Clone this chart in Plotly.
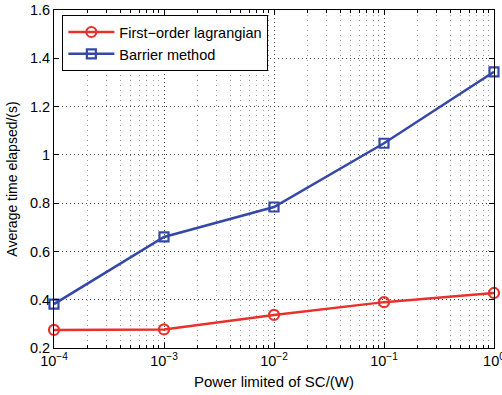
import plotly.graph_objects as go

x_vals = [1e-4, 1e-3, 1e-2, 1e-1, 1e0]
first_order = [0.275, 0.277, 0.337, 0.39, 0.428]
barrier = [0.382, 0.66, 0.784, 1.048, 1.344]
x_tick_vals = [1e-4, 1e-3, 1e-2, 1e-1, 1e0]
x_tick_text = ["10<sup>−4</sup>", "10<sup>−3</sup>", "10<sup>−2</sup>", "10<sup>−1</sup>", "10<sup>0</sup>"]
x_minor_vals = [m * 10.0 ** e for e in range(-4, 0) for m in range(2, 10)]
y_tick_vals = [0.2, 0.4, 0.6, 0.8, 1.0, 1.2, 1.4, 1.6]
y_tick_text = ["0.2", "0.4", "0.6", "0.8", "1", "1.2", "1.4", "1.6"]

red = "#e8312a"
blue = "#3548a8"

fig = go.Figure()
fig.add_trace(go.Scatter(
    x=x_vals, y=first_order, mode="lines+markers", name="First−order lagrangian",
    line=dict(color=red, width=2.5), cliponaxis=False,
    marker=dict(symbol="circle-open", size=10, color=red, line=dict(width=2.2, color=red)),
))
fig.add_trace(go.Scatter(
    x=x_vals, y=barrier, mode="lines+markers", name="Barrier method",
    line=dict(color=blue, width=2.5), cliponaxis=False,
    marker=dict(symbol="square-open", size=9, color=blue, line=dict(width=2.2, color=blue)),
))

font_family = "Liberation Sans, Arial, sans-serif"
fig.update_layout(
    width=502, height=395,
    margin=dict(l=54, r=8, t=10, b=47, autoexpand=False),
    paper_bgcolor="white", plot_bgcolor="white",
    font=dict(family=font_family, size=14, color="black"),
    showlegend=True,
    legend=dict(x=0.019, y=0.985, xanchor="left", yanchor="top",
                bordercolor="black", borderwidth=1, bgcolor="white",
                font=dict(size=14.5), tracegroupgap=0, itemwidth=46),
)
fig.update_xaxes(
    type="log", range=[-4, 0], autorange=False,
    tickvals=x_tick_vals, ticktext=x_tick_text,
    ticks="inside", ticklen=5, tickcolor="black",
    showline=True, linecolor="black", linewidth=1, mirror="ticks",
    showgrid=True, gridcolor="#444", griddash="1px,3px", gridwidth=1,
    minor=dict(tickvals=x_minor_vals, ticks="inside", ticklen=3, tickcolor="black",
               showgrid=True, gridcolor="#999", griddash="1px,4px", gridwidth=1),
    title=dict(text="Power limited of SC/(W)", font=dict(size=15), standoff=8),
    tickfont=dict(size=14.5), ticklabeloverflow="allow",
    zeroline=False, automargin=False,
)
fig.update_yaxes(
    range=[0.2, 1.6], autorange=False,
    tickvals=y_tick_vals, ticktext=y_tick_text,
    ticks="inside", ticklen=5, tickcolor="black",
    showline=True, linecolor="black", linewidth=1, mirror="ticks",
    showgrid=True, gridcolor="#444", griddash="1px,3px", gridwidth=1,
    title=dict(text="Average time elapsed/(s)", font=dict(size=14), standoff=9),
    tickfont=dict(size=14.5), ticklabeloverflow="allow",
    zeroline=False, automargin=False,
)

fig.write_html("out.html", config={"displayModeBar": False},
               post_script="document.body.style.margin='0';")
